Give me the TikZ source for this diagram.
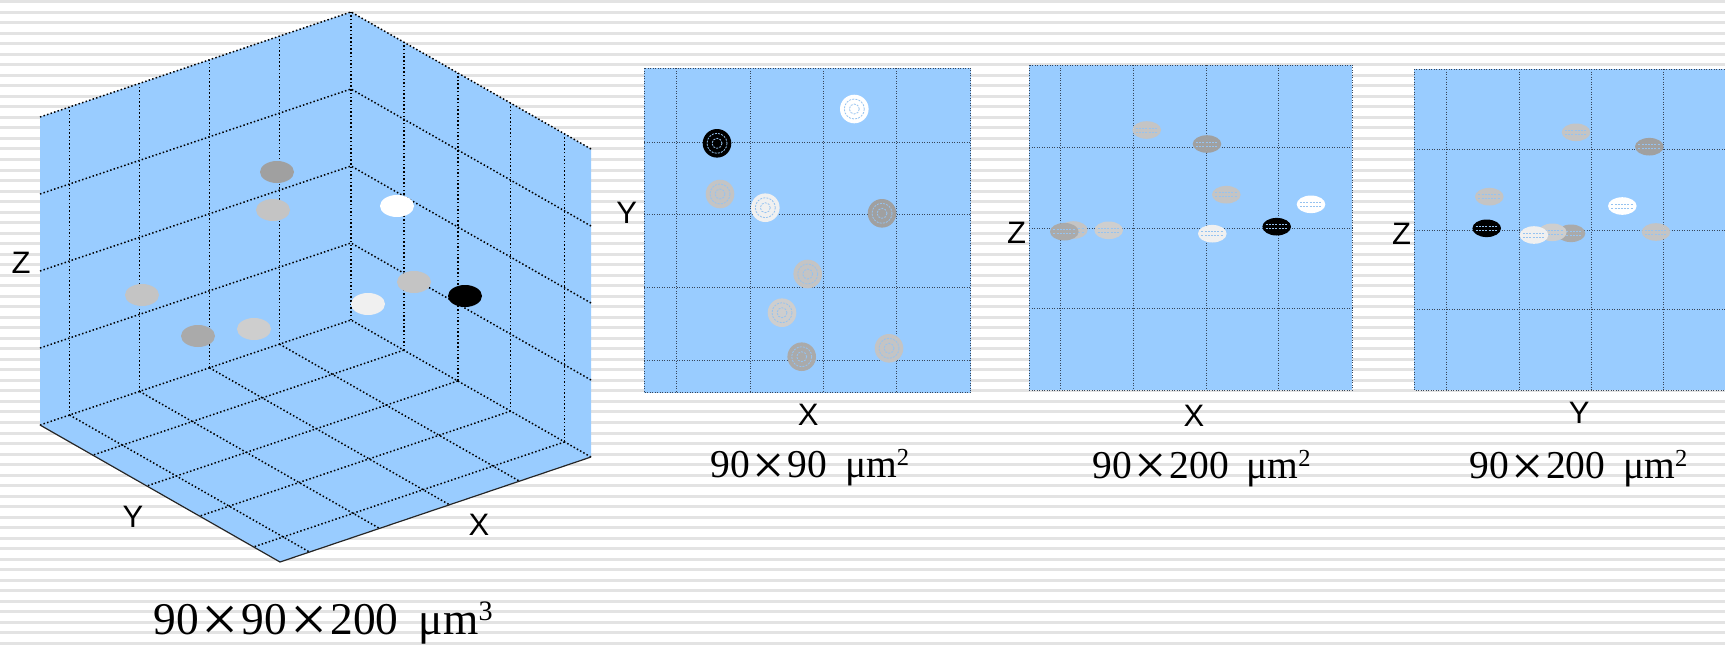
\documentclass[tikz,border=0pt]{standalone}
\usepackage{fontspec}
\setmainfont{Liberation Serif}
\setsansfont{Liberation Sans}

\definecolor{skyfill}{RGB}{153,204,255}
\definecolor{gridink}{RGB}{55,70,90}
\definecolor{meshblue}{RGB}{150,195,240}
\definecolor{ballD}{RGB}{160,160,160}
\definecolor{ballM}{RGB}{170,170,170}
\definecolor{ballL}{RGB}{196,196,196}
\definecolor{ballP}{RGB}{206,206,206}
\definecolor{ballW}{RGB}{240,240,240}

\newcommand{\crossx}[1]{\hspace{0.065em}\raisebox{-0.17em}{\fontsize{#1}{#1}\selectfont ×}\hspace{0.065em}}
\newcommand{\sqp}[1]{\raisebox{0.3em}{\scalebox{0.62}{#1}}}

\begin{document}
\begin{tikzpicture}[x=0.5pt, y=-0.5pt,
stripe/.style={fill=gray!22},
panelfill/.style={fill=skyfill},
griddot/.style={line width=0.75pt, dash pattern=on 0.75pt off 1.1pt, black},
finedot/.style={line width=0.45pt, dash pattern=on 0.45pt off 0.8pt, gridink},
frontedge/.style={line width=0.6pt, black!85},
meshline/.style={line width=0.4pt, dash pattern=on 1pt off 0.6pt, meshblue},
axlbl/.style={font=\sffamily\fontsize{15.5}{18}\selectfont, inner sep=0pt},
dimlbl/.style={font=\fontsize{19.75}{22}\selectfont, inner sep=0pt, anchor=base},
dimlblbig/.style={dimlbl, font=\fontsize{22.7}{26}\selectfont}
]
\useasboundingbox (0,0) rectangle (1725,644);
\clip (0,0) rectangle (1725,644);
\fill[white] (0,0) rectangle (1725,644);
\foreach \k in {0,...,61}
  \fill[stripe] (0,{10.52*\k+0.2}) rectangle (1725,{10.52*\k+3.2});

% cube
\begin{scope}[shift={(351,320)}, x={(-155.5pt,-52.5pt)}, y={(120pt,-68.5pt)}, z={(0pt,154pt)}]
\fill[panelfill] (1,0,1) -- (0,0,1) -- (0,1,1) -- (0,1,0) -- (1,1,0) -- (1,0,0) -- cycle;
\foreach \t in {0.23,0.455,0.68,0.905} {
  \draw[griddot] (\t,0,0) -- (\t,0,1);
  \draw[griddot] (\t,0,0) -- (\t,1,0);
}
\foreach \t in {0.22,0.445,0.665,0.89} {
  \draw[griddot] (0,\t,0) -- (0,\t,1);
  \draw[griddot] (0,\t,0) -- (1,\t,0);
}
\foreach \h in {0,0.25,0.5,0.75,1}
  \draw[griddot] (1,0,\h) -- (0,0,\h) -- (0,1,\h);
\draw[griddot] (0,0,0) -- (0,0,1);
\draw[frontedge] (1,0,0) -- (1,1,0) -- (0,1,0);
\end{scope}
\foreach \px/\py/\c in {277/172/ballD, 273/210/ballL, 142/295/ballL, 198/336/ballM,
  254/329/ballP, 397/206/white, 414/282/ballL, 465/296/black, 368/304/ballW}
  \fill[\c] (\px,\py) ellipse [x radius=17, y radius=11];
\node[axlbl] (zcube) at (21,263) {Z};
\node[axlbl] (ycube) at (133,517) {Y};
\node[axlbl] (xcube) at (479,525) {X};
\node[dimlblbig] (capcube) at (323,634) {90\crossx{33}90\crossx{33}200\hspace{0.45em}μm\sqp{3}};

% top view
\fill[panelfill] (644,68.3) rectangle (970.7,392.7);
\foreach \gx in {676.7,750,823.3,896.7}
  \draw[finedot] (\gx,68.3) -- (\gx,392.7);
\foreach \gy in {142.3,214.3,287.3,360.7}
  \draw[finedot] (644,\gy) -- (970.7,\gy);
\draw[finedot] (644,68.3) rectangle (970.7,392.7);
\foreach \px/\py/\c in {854.3/109/white, 717/143.3/black, 720/194/ballL, 765.3/207.7/ballW,
  882/213.3/ballD, 807.7/274/ballL, 782/312.7/ballP, 801.7/356.7/ballM, 889/348.3/ballL} {
  \fill[\c] (\px,\py) circle [radius=14.3];
  \draw[meshline] (\px,\py) circle [radius=5];
  \draw[meshline] (\px,\py) circle [radius=10];
}
\node[axlbl] (yxy) at (626.7,213.3) {Y};
\node[axlbl] (xxy) at (808.3,415) {X};
\node[dimlbl] (capxy) at (810,477.5) {90\crossx{28.6}90\hspace{0.45em}μm\sqp{2}};

% side view x-z
\fill[panelfill] (1029,65) rectangle (1352.3,390);
\foreach \gx in {1060.7,1133.7,1206,1278.7}
  \draw[finedot] (\gx,65) -- (\gx,390);
\foreach \gy in {147,228.3,308.7}
  \draw[finedot] (1029,\gy) -- (1352.3,\gy);
\draw[finedot] (1029,65) rectangle (1352.3,390);
\foreach \px/\py/\c in {1146.7/130/ballL, 1207/144/ballD, 1226.3/194.7/ballL, 1311/204.3/white,
  1073.3/230/ballL, 1064.3/231.7/ballM, 1108.7/230.3/ballP, 1212.3/233.7/ballW, 1276.7/226.7/black} {
  \fill[\c] (\px,\py) ellipse [x radius=14.3, y radius=8.8];
  \draw[meshline] ({\px-11},{\py-2}) -- ({\px+11},{\py-2});
  \draw[meshline] ({\px-11},{\py+2}) -- ({\px+11},{\py+2});
}
\node[axlbl] (zxz) at (1016.7,233.3) {Z};
\node[axlbl] (xxz) at (1194,415.7) {X};
\node[dimlbl] (capxz) at (1201.7,478) {90\crossx{28.6}200\hspace{0.45em}μm\sqp{2}};

% side view y-z
\fill[panelfill] (1414,69) rectangle (1737,390);
\foreach \gx in {1446,1519,1591.3,1663.3}
  \draw[finedot] (\gx,69) -- (\gx,390);
\foreach \gy in {149,230,309.3}
  \draw[finedot] (1414,\gy) -- (1737,\gy);
\draw[finedot] (1414,69) rectangle (1737,390);
\foreach \px/\py/\c in {1576/132.3/ballL, 1649.3/146.7/ballD, 1489.3/196.7/ballL, 1622.3/206/white,
  1486.7/228.3/black, 1571/233.3/ballM, 1552.3/232.3/ballP, 1534/235/ballW, 1656/232/ballL} {
  \fill[\c] (\px,\py) ellipse [x radius=14.3, y radius=8.8];
  \draw[meshline] ({\px-11},{\py-2}) -- ({\px+11},{\py-2});
  \draw[meshline] ({\px-11},{\py+2}) -- ({\px+11},{\py+2});
}
\node[axlbl] (zyz) at (1401.7,234.3) {Z};
\node[axlbl] (yyz) at (1579.3,412.7) {Y};
\node[dimlbl] (capyz) at (1578.3,478.5) {90\crossx{28.6}200\hspace{0.45em}μm\sqp{2}};
\end{tikzpicture}
\end{document}
